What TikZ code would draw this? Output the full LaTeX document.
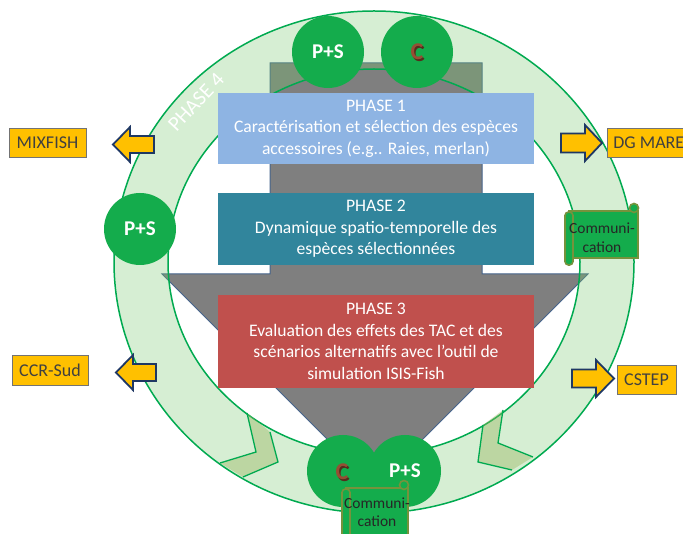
\documentclass[tikz,border=0pt]{standalone}
\usepackage{fontspec}
\setmainfont{Carlito}
\definecolor{ringgreen}{RGB}{0,170,80}
\definecolor{bandfill}{RGB}{120,200,110}
\definecolor{chevfill}{RGB}{150,180,90}
\definecolor{circgreen}{RGB}{20,172,76}
\definecolor{arrowgray}{RGB}{127,127,127}
\definecolor{arrowedge}{RGB}{70,100,140}
\definecolor{ph1}{RGB}{142,180,227}
\definecolor{ph2}{RGB}{49,133,156}
\definecolor{ph3}{RGB}{192,80,77}
\definecolor{orangebox}{RGB}{255,192,0}
\definecolor{navyedge}{RGB}{31,56,100}
\definecolor{scrolledge}{RGB}{118,146,60}
\definecolor{cbrown}{RGB}{150,78,52}
\definecolor{cbrowndark}{RGB}{85,45,28}
\newcommand\scrollshape[4]{%
  \filldraw[scrollst] ({#1+4},{#2+7}) rectangle (#3,{#4-7});
  \filldraw[scrollst] ({#3-4},{#2+4}) circle (4.5pt);
  \filldraw[scrollst, rounded corners=3.5pt] (#1,{#2+8}) rectangle ({#1+8},#4);
}
\begin{document}
\begin{tikzpicture}[x=1pt,y=-1pt,
  phasebox/.style={text=white, align=center, font=\fontsize{17.6}{21.5}\selectfont, inner sep=0pt},
  circ/.style={circle, fill=circgreen, minimum size=72pt, inner sep=0pt, text=white, font=\bfseries\fontsize{21}{21}\selectfont},
  clab/.style={inner sep=0pt, font=\bfseries\fontsize{24}{24}\selectfont},
  obox/.style={fill=orangebox, draw=black!55, line width=0.8pt, inner sep=0pt, text=black!75, font=\fontsize{18}{18}\selectfont},
  oarrow/.style={fill=orangebox, draw=navyedge, line width=1.8pt, line join=miter},
  scrollst/.style={fill=circgreen, draw=scrolledge, line width=1.6pt},
  scrolltext/.style={align=center, font=\fontsize{15.5}{18.5}\selectfont, text=black!85, inner sep=0pt},
  ringline/.style={draw=ringgreen, line width=1.5pt},
]
\useasboundingbox (0,0) rectangle (683,534);
\clip (0,0) rectangle (683,534);
\fill[white] (0,0) rectangle (683,534);

% big grey down arrow
\filldraw[fill=arrowgray, draw=arrowedge, line width=1pt]
  (270,63) -- (482,63) -- (482,274) -- (588,274) -- (375,487) -- (162,274) -- (270,274) -- cycle;

% ring (phase 4)
\fill[bandfill, fill opacity=0.3, even odd rule]
  (374,262) ellipse [x radius=260pt, y radius=251pt]
  (374,262) ellipse [x radius=206pt, y radius=193pt];
\draw[ringline] (374,262) ellipse [x radius=260pt, y radius=251pt];
\draw[ringline] (374,262) ellipse [x radius=206pt, y radius=193pt];
% chevron overlaps
\fill[chevfill, fill opacity=0.4] (247,413) -- (256,452) -- (220,463) -- (243,477) -- (278,462) -- (270,432) -- cycle;
\draw[ringline, line width=1.3pt] (247,413) -- (256,452) -- (220,463);
\draw[ringline, line width=1.3pt] (270,432) -- (278,462) -- (243,477);
\fill[chevfill, fill opacity=0.4] (503,410) -- (498,443) -- (533,457) -- (512,470) -- (478,462) -- (483,425) -- cycle;
\draw[ringline, line width=1.3pt] (503,410) -- (498,443) -- (533,457);
\draw[ringline, line width=1.3pt] (483,425) -- (478,462) -- (512,470);

\node[rotate=47, text=white, inner sep=0pt, font=\fontsize{21}{21}\selectfont] (ph4) at (196,102) {PHASE 4};

% phase boxes
\node[phasebox, fill=ph1, minimum width=316pt, minimum height=71pt] (p1) at (376,128.5)
  {PHASE 1\\Caractérisation et sélection des espèces\\accessoires (e.g.. Raies, merlan)};
\node[phasebox, fill=ph2, minimum width=316pt, minimum height=72pt] (p2) at (376,229)
  {PHASE 2\\Dynamique spatio-temporelle des\\espèces sélectionnées};
\node[phasebox, fill=ph3, minimum width=316pt, minimum height=93pt] (p3) at (376,341.5)
  {PHASE 3\\Evaluation des effets des TAC et des\\scénarios alternatifs avec l’outil de\\simulation ISIS-Fish};

% circles
\node[circ] (ps1) at (328,52) {P+S};
\node[circ] (c1) at (417,52) {};
\node[clab, text=cbrowndark] (c1s) at (418.4,53.4) {C};
\node[clab, text=cbrown] (c1t) at (417,52) {C};
\node[circ] (ps2) at (140,229) {P+S};
\node[circ] (c2) at (343,471) {};
\node[circ] (ps3) at (405,471) {P+S};
\node[clab, text=cbrowndark] (c2s) at (343.4,473.4) {C};
\node[clab, text=cbrown] (c2t) at (342,472) {C};

% communication scrolls
\scrollshape{565}{204}{638}{265}
\node[scrolltext] (com1) at (602,237.5) {Communi-\\cation};
\scrollshape{342}{481}{408}{548}
\node[scrolltext] (com2) at (377,512) {Communi-\\cation};

% orange boxes
\node[obox, minimum width=77pt, minimum height=29pt] (mix) at (47.5,142.5) {MIXFISH};
\node[obox, minimum width=76pt, minimum height=30pt] (ccr) at (50,370) {CCR-Sud};
\node[obox, minimum width=59pt, minimum height=29pt] (cstep) at (646.5,379.5) {CSTEP};
\node[obox, anchor=west, minimum height=29pt, inner xsep=6pt] (dg) at (607,142.5) {DG MARE\hspace{24pt}};

% orange block arrows
\filldraw[oarrow] (113,144.5) -- (130,127) -- (130,136) -- (154,136) -- (154,153) -- (130,153) -- (130,162) -- cycle;
\filldraw[oarrow] (602,143) -- (585,125) -- (585,133.5) -- (561,133.5) -- (561,152.5) -- (585,152.5) -- (585,161) -- cycle;
\filldraw[oarrow] (116,372.5) -- (133,355) -- (133,364) -- (156,364) -- (156,381) -- (133,381) -- (133,390) -- cycle;
\filldraw[oarrow] (614,378.5) -- (596,360) -- (596,369.5) -- (572,369.5) -- (572,387.5) -- (596,387.5) -- (596,397) -- cycle;
\end{tikzpicture}
\end{document}
